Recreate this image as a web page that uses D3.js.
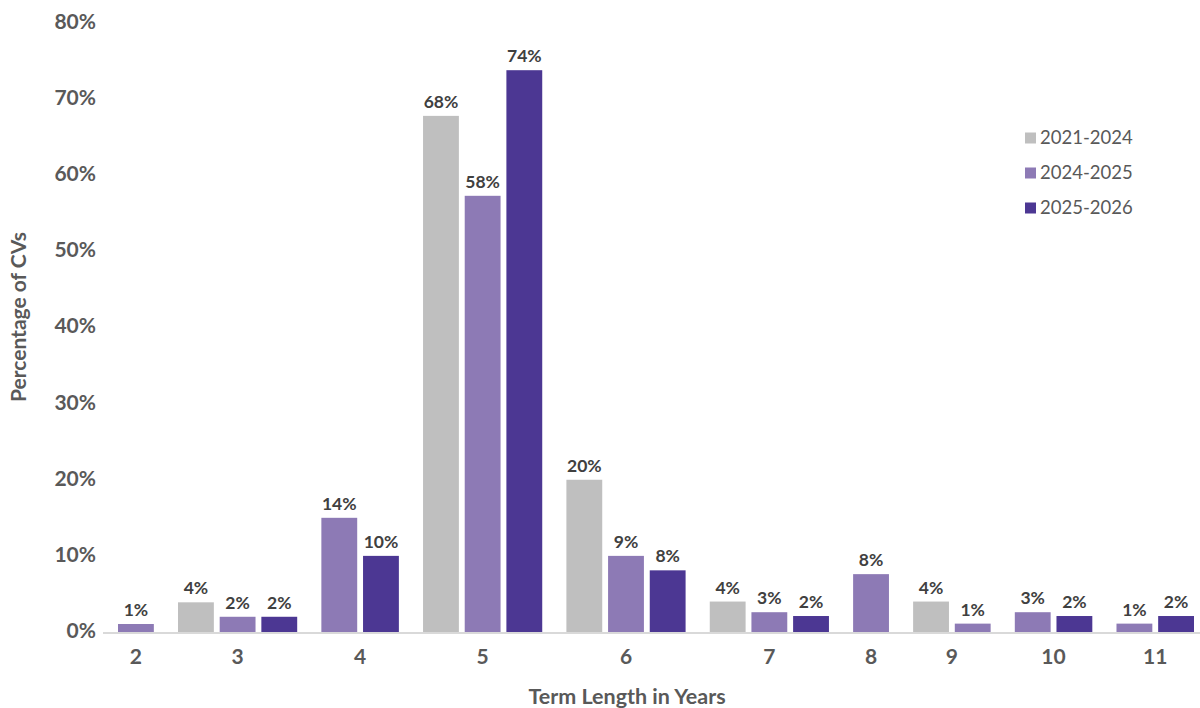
<!DOCTYPE html>
<html>
<head>
<meta charset="utf-8">
<script src="https://cdn.jsdelivr.net/npm/d3@7"></script>
<style>
  body { margin: 0; background: #fff; }
  svg { display: block; font-family: Lato, 'Open Sans', sans-serif; }
</style>
</head>
<body>
<svg></svg>
<script>
/** Chart data */
let categories = ['2', '3', '4', '5', '6', '7', '8', '9', '10', '11'];
let seriesNames = ['2021-2024', '2024-2025', '2025-2026'];
let seriesColors = ['#bfbfbf', '#8d7ab5', '#4c3793'];

let values2021 = [null, 3.9, null, 67.8, 20.0, 4.0, null, 4.0, null, null];
let values2024 = [1.05, 2.0, 15.0, 57.3, 10.0, 2.6, 7.6, 1.1, 2.6, 1.1];
let values2025 = [null, 2.0, 10.0, 73.8, 8.1, 2.1, null, null, 2.1, 2.1];

let labels2021 = [null, '4%', null, '68%', '20%', '4%', null, '4%', null, null];
let labels2024 = ['1%', '2%', '14%', '58%', '9%', '3%', '8%', '1%', '3%', '1%'];
let labels2025 = [null, '2%', '10%', '74%', '8%', '2%', null, null, '2%', '2%'];

let yTicks = [0, 10, 20, 30, 40, 50, 60, 70, 80];

let width = 1200;
let height = 708;

let svg = d3.select('svg').attr('width', width).attr('height', height);

const allValues = [values2021, values2024, values2025];
const allLabels = [labels2021, labels2024, labels2025];

/** Flatten bars: each category packs only the bars it has */
const barW = 0.86;    // bar width in slot units
const catGap = 0.44;  // extra space between categories
let bars = [];
let groups = [];
let u = 0;
categories.forEach((cat, i) => {
    let start = u;
    let last = u;
    allValues.forEach((vals, s) => {
        if (vals[i] == null) return;
        bars.push({ cat: cat, series: s, value: vals[i], label: allLabels[s][i], pos: u });
        last = u;
        u += 1;
    });
    groups.push({ cat: cat, start: start, end: last + barW });
    u += catGap;
});
let totalUnits = bars[bars.length - 1].pos + barW;

let xScale = d3.scaleLinear().domain([0, totalUnits]).range([118, 1194]);
let yScale = d3.scaleLinear().domain([0, 80]).range([632, 23]);

/** Bars */
svg.selectAll('rect.bar')
    .data(bars)
    .enter()
    .append('rect')
    .attr('class', 'bar')
    .attr('x', d => xScale(d.pos))
    .attr('width', d => xScale(d.pos + barW) - xScale(d.pos))
    .attr('y', d => yScale(d.value))
    .attr('height', d => yScale(0) - yScale(d.value))
    .attr('fill', d => seriesColors[d.series]);

/** Value labels */
svg.selectAll('text.val')
    .data(bars)
    .enter()
    .append('text')
    .attr('class', 'val')
    .attr('x', d => xScale(d.pos + barW / 2))
    .attr('y', d => yScale(d.value) - 8)
    .attr('text-anchor', 'middle')
    .attr('font-size', 17.5)
    .attr('font-weight', 'bold')
    .attr('fill', '#404040')
    .text(d => d.label);

/** X axis line + category labels */
svg.append('line')
    .attr('x1', 103).attr('x2', 1200)
    .attr('y1', yScale(0) + 1).attr('y2', yScale(0) + 1)
    .attr('stroke', '#d9d9d9')
    .attr('stroke-width', 2);

svg.selectAll('text.cat')
    .data(groups)
    .enter()
    .append('text')
    .attr('class', 'cat')
    .attr('x', d => xScale((d.start + d.end) / 2))
    .attr('y', 664)
    .attr('text-anchor', 'middle')
    .attr('font-size', 21)
    .attr('font-weight', 'bold')
    .attr('fill', '#595959')
    .text(d => d.cat);

/** Y axis (labels only) */
let yAxis = d3.axisLeft(yScale)
    .tickValues(yTicks)
    .tickSize(0)
    .tickPadding(0)
    .tickFormat(d => d + '%');

let yG = svg.append('g')
    .attr('transform', 'translate(96, 0)')
    .call(yAxis);
yG.select('.domain').remove();
yG.selectAll('text')
    .attr('font-family', 'Lato, sans-serif')
    .attr('font-size', 21)
    .attr('font-weight', 'bold')
    .attr('fill', '#595959')
    .attr('dy', '0.26em');

/** Axis titles */
svg.append('text')
    .attr('x', 627)
    .attr('y', 704)
    .attr('text-anchor', 'middle')
    .attr('font-size', 21.5)
    .attr('font-weight', 'bold')
    .attr('fill', '#595959')
    .text('Term Length in Years');

svg.append('text')
    .attr('transform', 'translate(26, 317) rotate(-90)')
    .attr('text-anchor', 'middle')
    .attr('font-size', 21)
    .attr('font-weight', 'bold')
    .attr('fill', '#595959')
    .text('Percentage of CVs');

/** Legend */
let legend = svg.selectAll('g.legend')
    .data(seriesNames)
    .enter()
    .append('g')
    .attr('class', 'legend')
    .attr('transform', (d, i) => `translate(1025, ${138 + i * 35})`);

legend.append('rect')
    .attr('x', 0).attr('y', -5.5)
    .attr('width', 11).attr('height', 11)
    .attr('fill', (d, i) => seriesColors[i]);

legend.append('text')
    .attr('x', 15)
    .attr('y', 0)
    .attr('dy', '0.35em')
    .attr('font-size', 18.5)
    .attr('fill', '#595959')
    .text(d => d);
</script>
</body>
</html>
